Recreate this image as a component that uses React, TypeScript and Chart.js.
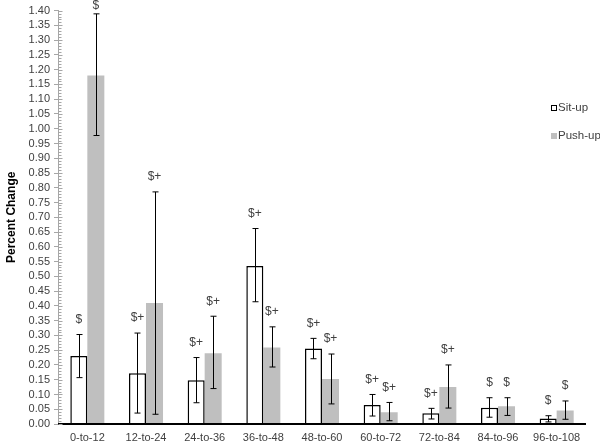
import React, { useEffect, useRef } from "react";
import { Chart, registerables } from "chart.js";

Chart.register(...registerables);

// age bands (months)
const categories = ["0-to-12", "12-to-24", "24-to-36", "36-to-48", "48-to-60", "60-to-72", "72-to-84", "84-to-96", "96-to-108"];

const situp = [0.23, 0.172, 0.148, 0.535, 0.256, 0.064, 0.036, 0.055, 0.019];
const situpLow = [0.157, 0.037, 0.072, 0.414, 0.221, 0.027, 0.017, 0.023, 0.007];
const situpHigh = [0.303, 0.308, 0.225, 0.662, 0.29, 0.1, 0.053, 0.089, 0.028];
const situpMarks = ["$", "$+", "$+", "$+", "$+", "$+", "$+", "$", "$"];

const pushup = [1.18, 0.41, 0.24, 0.259, 0.152, 0.04, 0.125, 0.06, 0.046];
const pushupLow = [0.977, 0.033, 0.12, 0.193, 0.068, 0.011, 0.054, 0.029, 0.016];
const pushupHigh = [1.389, 0.786, 0.365, 0.329, 0.237, 0.073, 0.2, 0.089, 0.078];
const pushupMarks = ["$", "$+", "$+", "$+", "$+", "$+", "$+", "$", "$"];

const FONT = "Arial, 'Liberation Sans', sans-serif";
const TEXT = "#404040";
const GRAY = "#bfbfbf";

const errorBars = {
  id: "errorBars",
  afterDatasetsDraw(chart: any) {
    const { ctx, scales, chartArea } = chart;
    const y = scales.y;
    const lows = [situpLow, pushupLow];
    const highs = [situpHigh, pushupHigh];
    const marks = [situpMarks, pushupMarks];
    ctx.save();
    chart.data.datasets.forEach((_: any, di: number) => {
      const meta = chart.getDatasetMeta(di);
      meta.data.forEach((bar: any, i: number) => {
        const x = Math.round(bar.x) + 0.5;
        const yh = y.getPixelForValue(highs[di][i]);
        const yl = y.getPixelForValue(lows[di][i]);
        ctx.strokeStyle = "#000";
        ctx.lineWidth = 1;
        ctx.beginPath();
        ctx.moveTo(x, yh);
        ctx.lineTo(x, yl);
        ctx.moveTo(x - 3, yh);
        ctx.lineTo(x + 3, yh);
        ctx.moveTo(x - 3, yl);
        ctx.lineTo(x + 3, yl);
        ctx.stroke();
        ctx.fillStyle = TEXT;
        ctx.font = `12px ${FONT}`;
        ctx.textAlign = "center";
        ctx.textBaseline = "middle";
        ctx.fillText(marks[di][i], bar.x, Math.max(yh - 15, 6));
      });
    });

    // baseline
    const y0 = y.getPixelForValue(0);
    ctx.strokeStyle = "#000";
    ctx.lineWidth = 2;
    ctx.beginPath();
    ctx.moveTo(chartArea.left, y0);
    ctx.lineTo(chartArea.right, y0);
    ctx.stroke();

    // minor ticks on the y axis
    ctx.strokeStyle = "#a6a6a6";
    ctx.lineWidth = 1;
    const ax = Math.round(chartArea.left) + 0.5;
    ctx.beginPath();
    for (let k = 0; k <= 140; k++) {
      const py = Math.round(y.getPixelForValue(k / 100)) + 0.5;
      const len = k % 5 === 0 ? 4 : 3;
      ctx.moveTo(ax, py);
      ctx.lineTo(ax + len, py);
    }
    ctx.stroke();

    // legend
    const lx = 551;
    ctx.font = `11.5px ${FONT}`;
    ctx.textAlign = "left";
    ctx.textBaseline = "middle";
    ctx.fillStyle = "#fff";
    ctx.fillRect(lx, 105, 5, 5);
    ctx.strokeStyle = "#000";
    ctx.lineWidth = 1;
    ctx.strokeRect(lx + 0.5, 105.5, 5, 5);
    ctx.fillStyle = TEXT;
    ctx.fillText("Sit-up", lx + 7, 108);
    ctx.fillStyle = GRAY;
    ctx.fillRect(lx, 133, 6, 6);
    ctx.fillStyle = TEXT;
    ctx.fillText("Push-up", lx + 7, 136);
    ctx.restore();
  },
};

const App: React.FC = () => {
  const canvasRef = useRef<HTMLCanvasElement>(null);

  useEffect(() => {
    if (!canvasRef.current) return;
    const chart = new Chart(canvasRef.current, {
      type: "bar",
      data: {
        labels: categories,
        datasets: [
          {
            label: "Sit-up",
            data: situp,
            backgroundColor: "#ffffff",
            borderColor: "#000000",
            borderWidth: 1.5,
            categoryPercentage: 0.58,
            barPercentage: 1,
          },
          {
            label: "Push-up",
            data: pushup,
            backgroundColor: GRAY,
            borderWidth: 0,
            categoryPercentage: 0.58,
            barPercentage: 1,
          },
        ],
      },
      options: {
        responsive: false,
        animation: false,
        layout: { padding: { top: 10, right: 14, left: 0, bottom: 0 } },
        plugins: {
          legend: { display: false },
          tooltip: { enabled: false },
        },
        scales: {
          x: {
            grid: { display: false, drawTicks: false },
            border: { display: false },
            ticks: { color: TEXT, font: { family: FONT, size: 11 }, padding: 7, maxRotation: 0, autoSkip: false },
            afterFit: (s: any) => {
              s.height = 18;
            },
          },
          y: {
            min: 0,
            max: 1.4,
            grid: { drawOnChartArea: false, drawTicks: true, tickLength: 4, color: "#a6a6a6" },
            border: { color: "#a6a6a6" },
            ticks: {
              stepSize: 0.05,
              autoSkip: false,
              color: TEXT,
              font: { family: FONT, size: 11 },
              padding: 4,
              callback: (v: any) => Number(v).toFixed(2),
            },
            title: {
              display: true,
              text: "Percent Change",
              color: "#000",
              font: { family: FONT, size: 12, weight: "bold" },
            },
            afterFit: (s: any) => {
              s.width = 58;
            },
          },
        },
      },
      plugins: [errorBars],
    });
    return () => {
      chart.destroy();
    };
  }, []);

  return (
    <div style={{ position: "absolute", left: 0, top: 0, width: 600, height: 442, background: "#fff" }}>
      <canvas ref={canvasRef} width={600} height={442}></canvas>
    </div>
  );
};

export default App;
